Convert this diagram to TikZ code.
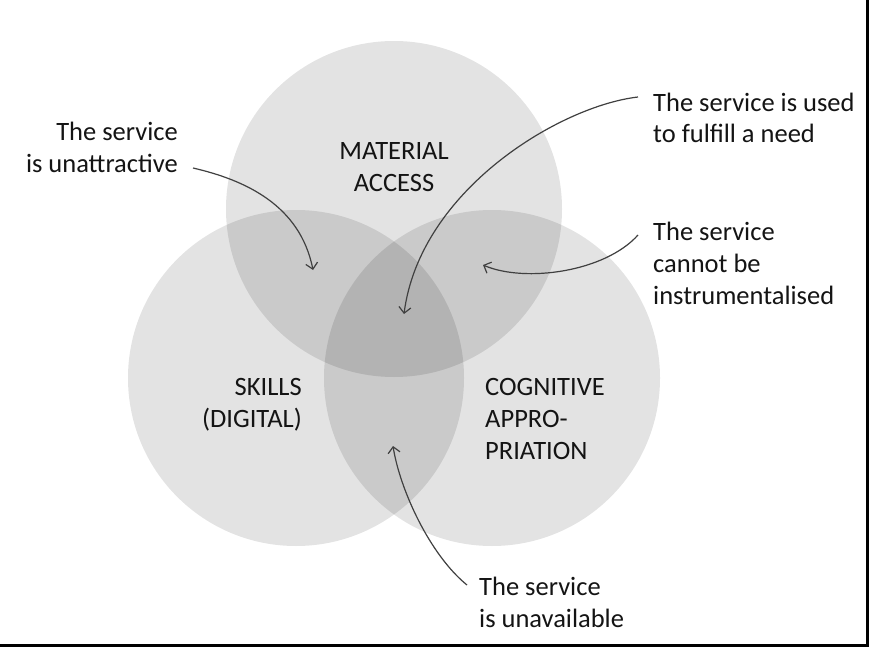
\documentclass[tikz,border=0pt]{standalone}
\usepackage{fontspec}
\setmainfont{Carlito}
\usetikzlibrary{arrows.meta}
\begin{document}
\begin{tikzpicture}[x=1pt,y=-1pt,
  venn/.style={circle, fill=black, fill opacity=0.11, minimum size=336pt, inner sep=0pt},
  lbl/.style={font=\fontsize{26.5}{32}\selectfont, text=black!92, inner sep=0pt},
  pointer/.style={draw=black!75, line width=1.2pt, -{Straight Barb[length=6pt,width=12pt]}}]
\useasboundingbox (0,0) rectangle (869,647);
\fill[white] (0,0) rectangle (869,647);
% circles
\node[venn] (cm) at (394,209) {};
\node[venn] (cs) at (296,378) {};
\node[venn] (cc) at (492,378) {};
% circle labels (anchor = baseline of last line)
\node[lbl, align=center, anchor=base] (mat) at (394,191) {MATERIAL\\ACCESS};
\node[lbl, align=right, anchor=base east] (skl) at (302,427) {SKILLS\\(DIGITAL)};
\node[lbl, align=left, anchor=base west] (cog) at (485,459) {COGNITIVE\\APPRO-\\PRIATION};
% outer labels
\node[lbl, align=right, anchor=base east] (una) at (178,172) {The service\\is unattractive};
\node[lbl, align=left, anchor=base west] (use) at (653,143) {The service is used\\to fulfill a need};
\node[lbl, align=left, anchor=base west] (ins) at (653,304) {The service\\cannot be\\instrumentalised};
\node[lbl, align=left, anchor=base west] (unv) at (479,627) {The service\\is unavailable};
% connector ends
\coordinate (s1) at (193,168); \coordinate (t1) at (313,270);
\coordinate (s2) at (638,97);  \coordinate (t2) at (404,314);
\coordinate (s3) at (638,235); \coordinate (t3) at (483,265);
\coordinate (s4) at (467,585); \coordinate (t4) at (393,446);
\draw[pointer] (s1) .. controls (245,180) and (300,205) .. (t1);
\draw[pointer] (s2) .. controls (560,106) and (420,190) .. (t2);
\draw[pointer] (s3) .. controls (605,272) and (525,283) .. (t3);
\draw[pointer] (s4) .. controls (430,555) and (400,490) .. (t4);
% frame edges
\draw[line width=3pt] (867.5,0) -- (867.5,645.5) -- (0,645.5);
\end{tikzpicture}
\end{document}
